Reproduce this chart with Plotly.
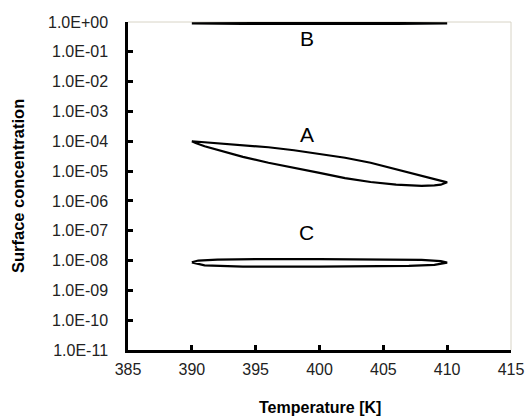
import math
import plotly.graph_objects as go

# ---- data ----
# Curve A: hysteresis loop (heating branch then cooling branch)
A_T_up = [390, 391, 392, 394, 396, 398, 400, 402, 404, 406, 408, 409, 410]
A_c_up = [1.0e-4, 9.3e-5, 8.7e-5, 7.6e-5, 6.3e-5, 5.0e-5, 3.8e-5, 2.8e-5, 1.9e-5, 1.15e-5, 6.9e-6, 5.4e-6, 4.2e-6]
A_T_dn = [410, 409.5, 409, 408, 406, 404, 402, 400, 398, 396, 394, 392, 391, 390.3, 390]
A_c_dn = [4.2e-6, 3.5e-6, 3.3e-6, 3.2e-6, 3.5e-6, 4.3e-6, 5.8e-6, 8.7e-6, 1.26e-5, 1.9e-5, 3.0e-5, 5.0e-5, 6.8e-5, 8.7e-5, 1.0e-4]

# Curve B
B_T_up = [390, 394, 400, 406, 410]
B_c_up = [0.90, 0.92, 0.92, 0.92, 0.90]
B_T_dn = [410, 406, 400, 394, 390]
B_c_dn = [0.90, 0.86, 0.85, 0.86, 0.90]

# Curve C
C_T_up = [390, 390.5, 392, 395, 400, 405, 408, 409.5, 410]
C_c_up = [8.7e-9, 1.0e-8, 1.07e-8, 1.12e-8, 1.12e-8, 1.1e-8, 1.05e-8, 9.5e-9, 8.5e-9]
C_T_dn = [410, 409, 407, 400, 394, 391, 390.3, 390]
C_c_dn = [8.5e-9, 7.2e-9, 6.6e-9, 6.3e-9, 6.3e-9, 6.9e-9, 7.9e-9, 8.7e-9]

x_ticks = [385, 390, 395, 400, 405, 410, 415]
y_tickvals = [1e0, 1e-1, 1e-2, 1e-3, 1e-4, 1e-5, 1e-6, 1e-7, 1e-8, 1e-9, 1e-10, 1e-11]
y_ticktext = ["1.0E+00", "1.0E-01", "1.0E-02", "1.0E-03", "1.0E-04", "1.0E-05",
              "1.0E-06", "1.0E-07", "1.0E-08", "1.0E-09", "1.0E-10", "1.0E-11"]

labels = ["A", "B", "C"]
label_x = [399, 399, 399]
label_y = [1.75e-4, 0.29, 9.0e-8]

FONT = "Liberation Sans, Arial, sans-serif"

fig = go.Figure()
for T_up, c_up, T_dn, c_dn in [(A_T_up, A_c_up, A_T_dn, A_c_dn),
                               (B_T_up, B_c_up, B_T_dn, B_c_dn),
                               (C_T_up, C_c_up, C_T_dn, C_c_dn)]:
    fig.add_trace(go.Scatter(x=T_up + T_dn, y=c_up + c_dn, mode="lines",
                             line=dict(color="black", width=2.2),
                             showlegend=False, hoverinfo="skip"))

# annotations on a log axis take log10 positions
for t, x, y in zip(labels, label_x, label_y):
    fig.add_annotation(x=x, y=math.log10(y), yref="y", xref="x", text=t, showarrow=False,
                       font=dict(family=FONT, size=21, color="black"))

# axis titles
fig.add_annotation(xref="paper", yref="paper", x=0.5, y=0, yshift=-57, yanchor="middle",
                   text="<b>Temperature [K]</b>", showarrow=False,
                   font=dict(family=FONT, size=16, color="black"))
fig.add_annotation(xref="paper", yref="paper", x=0, y=0.5, xshift=-110, xanchor="center",
                   text="<b>Surface concentration</b>", showarrow=False, textangle=-90,
                   font=dict(family=FONT, size=16.5, color="black"))

# thin light frame on top and right
fig.add_shape(type="line", xref="paper", yref="paper", x0=0, x1=1, y0=1, y1=1,
              line=dict(color="#d8d4c6", width=1), layer="below")
fig.add_shape(type="line", xref="paper", yref="paper", x0=1, x1=1, y0=0, y1=1,
              line=dict(color="#d8d4c6", width=1), layer="below")

fig.update_xaxes(range=[385, 415], tickvals=x_ticks, ticks="inside", ticklen=5,
                 tickwidth=2.5, tickcolor="black", showline=True, linewidth=2.5,
                 linecolor="black", showgrid=False, zeroline=False,
                 ticklabelstandoff=3, automargin=False,
                 tickfont=dict(family=FONT, size=16, color="#222"))
fig.update_yaxes(type="log", range=[-11, 0], tickvals=y_tickvals, ticktext=y_ticktext,
                 ticks="inside", ticklen=5, tickwidth=2.5, tickcolor="black",
                 showline=True, linewidth=2.5, linecolor="black", showgrid=False,
                 zeroline=False, ticklabelstandoff=14, automargin=False,
                 tickfont=dict(family=FONT, size=16, color="#222"))

fig.update_layout(width=528, height=416, margin=dict(l=128, r=17, t=22, b=66, autoexpand=False),
                  paper_bgcolor="white", plot_bgcolor="white",
                  font=dict(family=FONT))

# remove the default page margin so the figure sits at the window origin
fig.write_html("out.html", config={"displayModeBar": False},
               post_script="document.body.style.margin='0';document.body.style.overflow='hidden';")
